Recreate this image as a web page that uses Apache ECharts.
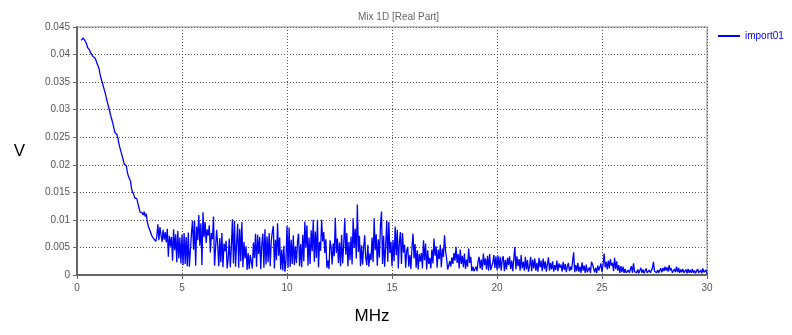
<!DOCTYPE html>
<html>
<head>
<meta charset="utf-8">
<title>Mix 1D [Real Part]</title>
<script src="https://cdn.jsdelivr.net/npm/echarts@6/dist/echarts.min.js"></script>
<style>
  html, body { margin: 0; padding: 0; background: #ffffff; }
  #chart { width: 792px; height: 335px; }
</style>
</head>
<body>
<div id="chart"></div>
<script>
// Spectrum amplitude of import01, in millivolts, sampled every 0.05 MHz.
// Row k holds the samples from k MHz up to k + 0.95 MHz (row 0 starts at 0.2 MHz,
// the last row also carries the 30 MHz end point).
const seriesName = 'import01';
const sampleStep = 0.05;
const firstSample = 0.2;
const amplitudeMv = [
  [42.6,42.7,43.0,42.9,42.4,42.0,41.3,41.1,40.8,40.3,40.0,39.7,39.5,39.4,39.0,38.4],
  [38.0,37.4,36.4,35.6,35.0,34.3,33.6,32.9,32.1,31.3,30.6,29.8,29.0,28.3,27.6,26.8,25.9,25.6,25.5,24.8],
  [23.8,23.0,22.3,21.6,20.9,20.1,19.9,19.8,18.6,17.9,17.8,17.0,15.6,15.0,14.6,14.0,13.7,13.8,13.0,12.2],
  [11.4,11.2,11.3,10.9,11.5,10.6,11.1,9.6,8.8,8.3,7.8,7.2,6.9,6.6,6.3,6.1,7.0,9.2,6.3,8.7],
  [7.3,6.0,8.2,6.4,7.8,5.9,8.4,3.3,7.1,5.2,6.9,2.6,8.3,4.5,7.4,2.3,8.0,3.0,6.8,2.1],
  [7.3,1.8,7.6,2.0,6.9,1.6,7.7,1.5,1.6,7.5,9.9,4.6,9.8,1.7,8.8,6.3,10.9,5.3,9.4,1.8],
  [11.4,6.9,9.6,5.8,8.3,7.2,9.0,4.1,7.6,6.5,10.6,1.7,1.6,8.2,5.5,1.6,6.7,2.3,7.6,1.4],
  [5.7,4.3,6.2,1.2,3.0,6.6,1.4,5.0,10.1,2.1,9.8,1.5,5.7,9.3,1.3,8.4,2.5,9.6,1.4,6.0],
  [3.0,5.2,0.9,4.0,1.1,3.6,3.9,1.2,5.9,3.1,7.5,1.5,7.3,3.8,6.9,1.1,5.5,7.5,1.3,8.3],
  [1.9,7.0,2.3,7.6,1.6,6.1,7.8,8.9,1.2,6.4,2.7,9.4,3.5,6.8,1.0,4.6,0.8,5.3,0.6,2.4],
  [8.9,1.3,8.6,1.5,6.4,2.0,7.2,1.8,5.2,2.2,6.0,7.5,1.6,5.6,1.4,7.3,2.5,9.7,5.0,9.0],
  [1.7,6.8,2.0,8.1,4.3,10.0,2.4,7.9,3.1,10.0,1.4,6.0,4.4,10.0,6.1,7.8,4.0,6.5,1.3,2.6],
  [1.1,6.3,5.0,1.9,5.7,3.4,10.4,4.0,6.6,2.2,5.9,1.6,7.3,2.1,5.5,10.3,3.7,7.6,1.6,6.0],
  [2.7,7.0,1.9,10.3,4.9,8.4,3.0,12.8,4.2,7.1,1.6,5.4,1.9,5.0,7.2,3.1,1.8,5.5,1.5,3.9],
  [2.7,6.8,2.3,10.3,4.5,7.4,1.7,6.5,3.2,9.0,11.5,2.0,7.1,1.5,5.2,9.9,2.4,9.6,4.0,6.0],
  [1.6,6.3,2.5,8.8,3.6,8.2,1.2,5.9,7.8,2.0,7.6,4.1,5.5,1.3,4.4,5.1,1.5,3.6,1.1,4.9],
  [7.5,3.0,5.6,1.3,4.5,1.0,3.8,2.4,4.0,1.2,6.3,2.7,5.7,1.0,4.5,2.0,3.1,1.2,4.6,2.1],
  [6.6,3.5,5.2,1.3,4.6,2.9,5.5,1.4,4.8,3.3,7.2,4.4,3.0,1.0,1.2,2.5,1.5,3.2,2.0,4.0],
  [2.6,5.1,2.2,3.8,1.2,4.6,2.0,3.5,1.4,3.9,1.1,2.8,1.5,4.8,2.2,3.3,0.7,1.5,0.7,0.8],
  [1.5,0.7,2.5,3.3,1.2,2.8,0.9,3.9,1.8,3.0,1.0,3.5,0.8,3.8,0.9,0.8,2.2,3.6,1.3,3.4],
  [0.9,3.5,1.2,3.3,0.8,2.9,3.4,0.7,2.7,1.0,3.1,1.8,3.4,1.1,2.6,0.7,3.0,5.1,1.0,3.4],
  [1.6,2.9,0.8,3.6,1.2,2.4,0.8,3.3,1.0,2.7,0.6,1.6,3.3,0.7,2.8,1.2,3.0,0.8,2.2,0.6],
  [3.1,1.4,2.6,0.7,3.0,1.1,2.5,0.6,2.0,3.2,0.8,2.2,1.0,2.5,0.6,1.8,0.9,2.6,0.7,2.1],
  [1.3,1.9,0.6,2.4,0.9,2.0,0.5,1.6,2.2,0.7,1.5,0.9,2.5,4.1,0.5,1.8,0.7,2.2,0.6,1.5],
  [0.4,2.3,0.8,1.7,0.4,1.9,0.5,0.5,1.4,0.4,2.4,1.9,1.2,0.5,1.3,0.4,1.7,0.8,1.1,2.1],
  [0.5,1.9,3.9,1.4,2.4,1.0,2.6,1.2,2.9,1.7,2.2,0.7,3.1,1.1,2.5,0.8,1.8,0.4,1.6,0.5],
  [1.5,0.4,1.1,0.4,0.4,0.9,0.4,0.4,1.6,0.4,2.1,0.6,0.4,0.4,1.0,0.3,0.4,1.3,0.4,1.0],
  [0.3,0.4,1.2,0.4,0.4,0.9,0.4,0.4,1.2,2.4,0.7,0.4,0.4,0.9,0.4,0.4,1.2,0.5,1.3,0.7],
  [1.5,0.8,1.4,0.6,1.8,0.8,1.2,0.4,0.5,1.1,0.5,1.5,0.5,1.3,0.4,1.0,0.5,1.1,0.4,0.4],
  [1.0,0.3,1.1,0.4,0.9,0.4,1.1,0.4,0.8,0.3,0.7,1.1,0.4,0.4,0.9,0.3,1.2,0.5,0.4,0.9,0.2]
];

// Axis ticks
const freqTicks = [0, 5, 10, 15, 20, 25, 30];
const voltTicks = [0, 0.005, 0.01, 0.015, 0.02, 0.025, 0.03, 0.035, 0.04, 0.045];

// Build [MHz, V] pairs from the rows.
const points = [];
amplitudeMv.forEach(function (row, k) {
  const rowStart = k === 0 ? firstSample : k;
  row.forEach(function (mv, j) {
    const f = Math.round((rowStart + j * sampleStep) * 100) / 100;
    points.push([f, mv / 1000]);
  });
});

const gridColor = '#555555';
const labelFont = 'Liberation Sans';

const chart = echarts.init(document.getElementById('chart'), null, { renderer: 'canvas' });
chart.setOption({
  animation: false,
  backgroundColor: '#ffffff',
  title: {
    text: 'Mix 1D [Real Part]',
    left: 353,
    top: 7,
    textStyle: { fontFamily: labelFont, fontSize: 10, fontWeight: 'normal', color: '#666666' }
  },
  legend: {
    data: [seriesName],
    left: 718,
    top: 31,
    padding: 0,
    icon: 'rect',
    itemWidth: 22,
    itemHeight: 2,
    textStyle: { fontFamily: labelFont, fontSize: 10, color: '#0000ff' }
  },
  grid: {
    left: 77,
    right: 85,
    top: 27,
    bottom: 60,
    show: true,
    borderColor: '#8a8a8a',
    borderWidth: 1,
    backgroundColor: 'transparent'
  },
  xAxis: {
    type: 'value',
    min: freqTicks[0],
    max: freqTicks[freqTicks.length - 1],
    interval: freqTicks[1] - freqTicks[0],
    name: 'MHz',
    nameLocation: 'middle',
    nameGap: 33,
    nameTextStyle: { fontFamily: labelFont, fontSize: 17, color: '#000000', padding: [0, 40, 0, 0] },
    axisLine: { lineStyle: { color: '#666666', width: 2 } },
    axisTick: { show: true, length: 4, lineStyle: { color: '#666666' } },
    axisLabel: { margin: 8, fontFamily: labelFont, fontSize: 10, color: '#555555' },
    splitLine: { show: true, lineStyle: { color: gridColor, width: 1, type: [1, 2] } }
  },
  yAxis: {
    type: 'value',
    min: voltTicks[0],
    max: voltTicks[voltTicks.length - 1],
    interval: voltTicks[1] - voltTicks[0],
    name: 'V',
    nameLocation: 'middle',
    nameGap: 52,
    nameRotate: 0,
    nameTextStyle: { fontFamily: labelFont, fontSize: 17, color: '#000000' },
    axisLine: { show: true, lineStyle: { color: '#666666', width: 2 } },
    axisTick: { show: true, length: 4, lineStyle: { color: '#666666' } },
    axisLabel: {
      margin: 7,
      fontFamily: labelFont,
      fontSize: 10,
      color: '#555555',
      formatter: function (v) { return String(+v.toFixed(3)); }
    },
    splitLine: { show: true, lineStyle: { color: gridColor, width: 1, type: [1, 2] } }
  },
  series: [{
    name: seriesName,
    type: 'line',
    data: points,
    showSymbol: false,
    symbol: 'none',
    color: '#0000ff',
    lineStyle: { color: '#0000ff', width: 1.3 }
  }]
});
</script>
</body>
</html>
